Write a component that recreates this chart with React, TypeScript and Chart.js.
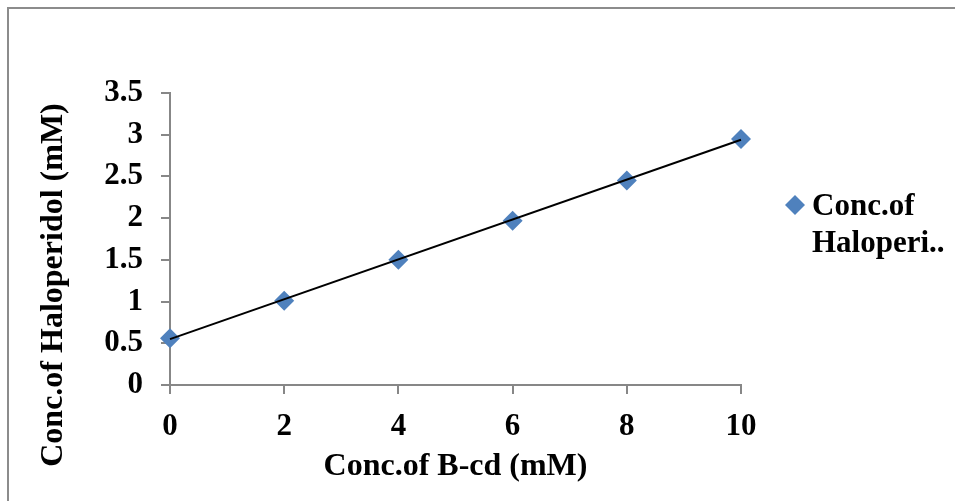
import React, { useEffect, useRef } from "react";
import { Chart, registerables } from "chart.js";

Chart.register(...registerables);

// ---- data ----
const bcdConc = [0, 2, 4, 6, 8, 10];
const haloperidolConc = [0.56, 1.01, 1.5, 1.97, 2.45, 2.95];
const trendX = [0, 10];
const trendY = [0.55, 2.94];
const seriesName = "Conc.of Haloperidol";
const legendLines = ["Conc.of", "Haloperi.."];
const xTitle = "Conc.of B-cd (mM)";
const yTitle = "Conc.of Haloperidol (mM)";
const xRange = [0, 10];
const xStep = 2;
const yRange = [0, 3.5];
const yStep = 0.5;

const FONT = '"Liberation Serif", "Times New Roman", Times, serif';
const AXIS_GRAY = "#878787";
const MARKER_BLUE = "#4F81BD";

const sideLegend = {
  id: "sideLegend",
  afterDraw(chart: any) {
    const { ctx, chartArea } = chart;
    const mx = chartArea.right + 54;
    const my = chartArea.top + 112;
    const r = 10;
    ctx.save();
    ctx.fillStyle = MARKER_BLUE;
    ctx.beginPath();
    ctx.moveTo(mx - r, my);
    ctx.lineTo(mx, my - r);
    ctx.lineTo(mx + r, my);
    ctx.lineTo(mx, my + r);
    ctx.closePath();
    ctx.fill();
    ctx.fillStyle = "#000";
    ctx.font = `bold 31px ${FONT}`;
    ctx.textAlign = "left";
    ctx.textBaseline = "alphabetic";
    ctx.fillText(legendLines[0], chartArea.right + 71, chartArea.top + 122);
    ctx.fillText(legendLines[1], chartArea.right + 71, chartArea.top + 159);
    ctx.restore();
  },
};

// y-axis title, centred lower than the plot area like the original
const yAxisTitle = {
  id: "yAxisTitle",
  afterDraw(chart: any) {
    const { ctx, chartArea } = chart;
    ctx.save();
    ctx.translate(54, chartArea.bottom - 100);
    ctx.rotate(-Math.PI / 2);
    ctx.fillStyle = "#000";
    ctx.font = `bold 32px ${FONT}`;
    ctx.textAlign = "center";
    ctx.textBaseline = "middle";
    ctx.fillText(yTitle, 0, 0);
    ctx.restore();
  },
};

export default function App() {
  const canvasRef = useRef<HTMLCanvasElement | null>(null);

  useEffect(() => {
    const canvas = canvasRef.current;
    if (!canvas) return;
    const chart = new Chart(canvas, {
      type: "scatter",
      data: {
        datasets: [
          {
            label: "Linear trend",
            data: trendX.map((x, i) => ({ x, y: trendY[i] })),
            showLine: true,
            borderColor: "#000000",
            borderWidth: 2,
            pointRadius: 0,
            pointHoverRadius: 0,
            clip: false,
            order: 1,
          },
          {
            label: seriesName,
            data: bcdConc.map((x, i) => ({ x, y: haloperidolConc[i] })),
            pointStyle: "rectRot",
            pointRadius: 10,
            pointHoverRadius: 10,
            backgroundColor: MARKER_BLUE,
            borderColor: MARKER_BLUE,
            borderWidth: 0,
            showLine: false,
            clip: false,
            order: 2,
          },
        ],
      },
      options: {
        responsive: false,
        animation: false,
        devicePixelRatio: 1,
        layout: { padding: { left: 0, top: 93, right: 214, bottom: 0 } },
        plugins: {
          legend: { display: false },
          tooltip: { enabled: false },
        },
        scales: {
          x: {
            type: "linear",
            min: xRange[0],
            max: xRange[1],
            afterFit(scale: any) {
              scale.height = 116;
            },
            ticks: {
              stepSize: xStep,
              color: "#000",
              padding: 14,
              font: { family: FONT, size: 31, weight: "bold" },
            },
            grid: {
              display: true,
              drawOnChartArea: false,
              drawTicks: true,
              tickLength: 9,
              color: AXIS_GRAY,
              lineWidth: 2,
            },
            border: { display: true, color: AXIS_GRAY, width: 2 },
            title: {
              display: true,
              text: xTitle,
              color: "#000",
              font: { family: FONT, size: 32, weight: "bold" },
              padding: { top: 0, bottom: 15 },
            },
          },
          y: {
            type: "linear",
            min: yRange[0],
            max: yRange[1],
            afterFit(scale: any) {
              scale.width = 170;
            },
            ticks: {
              stepSize: yStep,
              color: "#000",
              padding: 18,
              font: { family: FONT, size: 31, weight: "bold" },
              callback: (v: any) => String(Number(v)),
            },
            grid: {
              display: true,
              drawOnChartArea: false,
              drawTicks: true,
              tickLength: 9,
              color: AXIS_GRAY,
              lineWidth: 2,
            },
            border: { display: true, color: AXIS_GRAY, width: 2 },
            title: { display: false },
          },
        },
      },
      plugins: [sideLegend, yAxisTitle],
    } as any);
    return () => chart.destroy();
  }, []);

  return (
    <div
      style={{
        position: "fixed",
        left: 0,
        top: 0,
        width: 955,
        height: 501,
        background: "#fff",
        overflow: "hidden",
      }}
    >
      <div
        style={{
          position: "absolute",
          left: 7,
          top: 7,
          right: -10,
          bottom: -10,
          borderLeft: "2px solid #8c8c8c",
          borderTop: "2px solid #8c8c8c",
        }}
      />
      <canvas
        ref={canvasRef}
        width={955}
        height={501}
        style={{ position: "absolute", left: 0, top: 0, width: 955, height: 501 }}
      />
    </div>
  );
}
